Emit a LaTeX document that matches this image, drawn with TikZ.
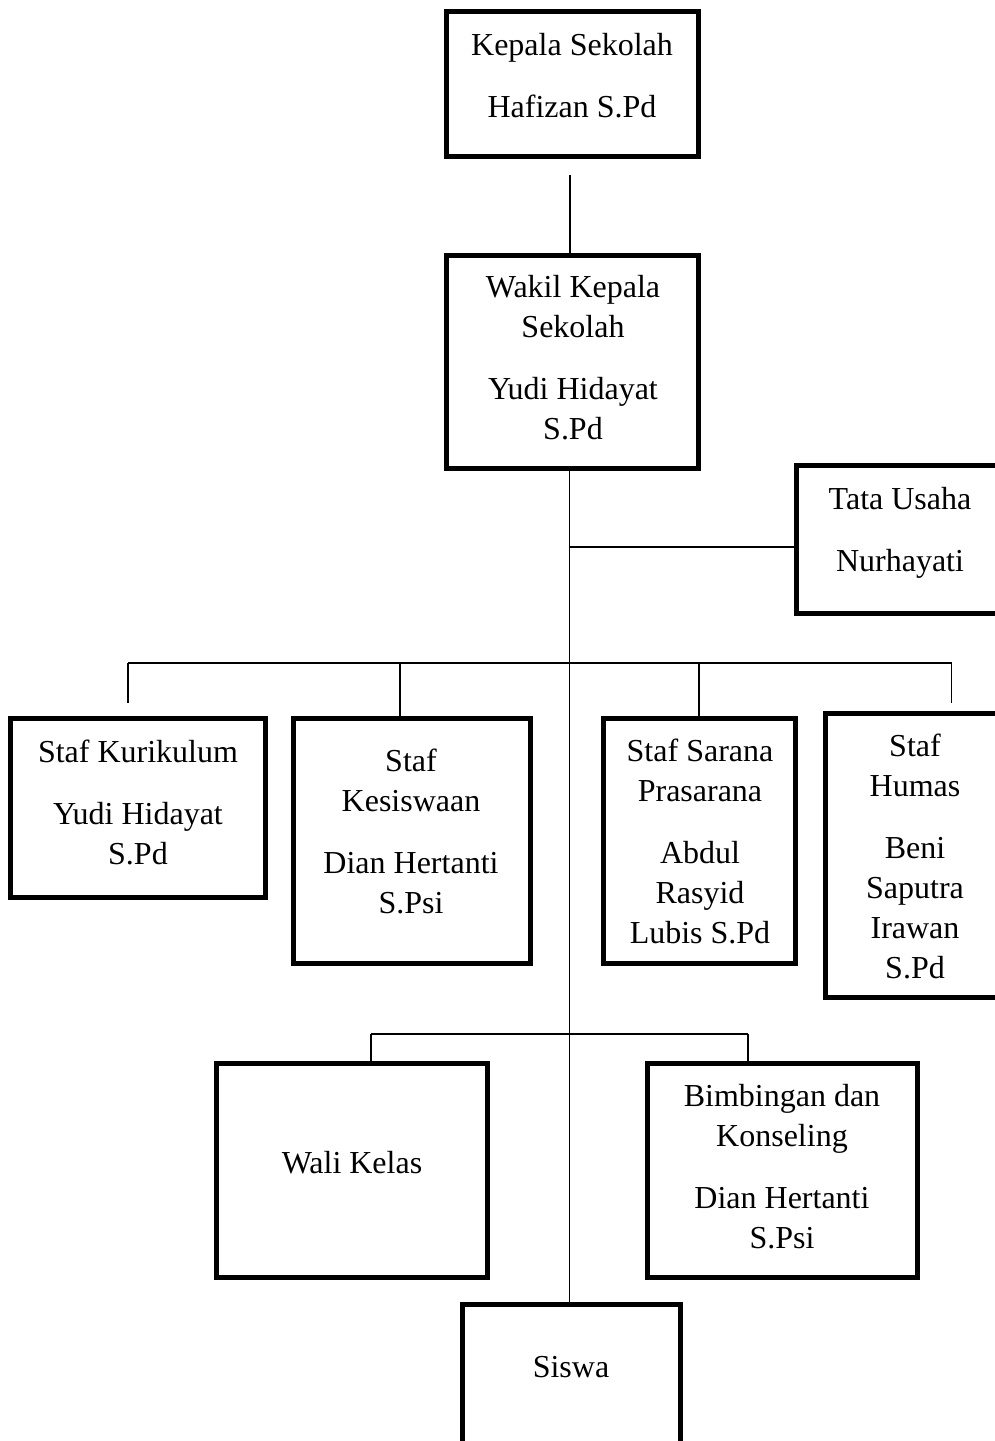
\documentclass[tikz,border=0pt]{standalone}
\usepackage{fontspec}
\setmainfont{Liberation Serif}
\begin{document}
\begin{tikzpicture}[x=0.5pt,y=-0.5pt,
  box/.style={draw, line width=2.5pt, inner sep=0pt, outer sep=0pt},
  txt/.style={align=center, inner sep=0pt, font=\fontsize{16}{20}\selectfont},
  conn/.style={line width=0.9pt}]
\useasboundingbox (0,0) rectangle (995,1441);
\clip (0,0) rectangle (995,1441);

% boxes
\node[box, minimum width=126pt, minimum height=72.5pt] (kepala) at (572.5,84) {};
\node[box, minimum width=126pt, minimum height=106.5pt] (wakil) at (572.5,362) {};
\node[box, minimum width=103.5pt, minimum height=74pt] (tata) at (900,539.5) {};
\node[box, minimum width=127.5pt, minimum height=89.5pt] (kur) at (138,808) {};
\node[box, minimum width=118.5pt, minimum height=122.5pt] (kes) at (412,841) {};
\node[box, minimum width=96pt, minimum height=122.5pt] (sar) at (699.5,841) {};
\node[box, minimum width=89.5pt, minimum height=142pt] (hum) at (915,855.5) {};
\node[box, minimum width=135.5pt, minimum height=107pt] (wali) at (352,1170.5) {};
\node[box, minimum width=135pt, minimum height=107pt] (bim) at (782.5,1170.5) {};
\node[box, minimum width=109pt, minimum height=76.5pt] (siswa) at (571.5,1381) {};

% texts
\node[txt] (kepalaT) at (572,78) {Kepala Sekolah\strut\\[11pt]Hafizan S.Pd\strut};
\node[txt] (wakilT) at (573,360) {Wakil Kepala\strut\\Sekolah\strut\\[11pt]Yudi Hidayat\strut\\S.Pd\strut};
\node[txt] (tataT) at (900,532) {Tata Usaha\strut\\[11pt]Nurhayati\strut};
\node[txt] (kurT) at (138,805) {Staf Kurikulum\strut\\[11pt]Yudi Hidayat\strut\\S.Pd\strut};
\node[txt] (kesT) at (411,834.5) {Staf\strut\\Kesiswaan\strut\\[11pt]Dian Hertanti\strut\\S.Psi\strut};
\node[txt] (sarT) at (700,844) {Staf Sarana\strut\\Prasarana\strut\\[11pt]Abdul\strut\\Rasyid\strut\\Lubis S.Pd\strut};
\node[txt] (humT) at (915,859.5) {Staf\strut\\Humas\strut\\[11pt]Beni\strut\\Saputra\strut\\Irawan\strut\\S.Pd\strut};
\node[txt] (waliT) at (352,1165) {Wali Kelas\strut};
\node[txt] (bimT) at (782,1169.5) {Bimbingan dan\strut\\Konseling\strut\\[11pt]Dian Hertanti\strut\\S.Psi\strut};
\node[txt] (siswaT) at (571,1369) {Siswa\strut};

% connectors
\coordinate (kdrop) at (570,175);
\draw[conn] (kdrop) -- (kdrop |- wakil.north);
\coordinate (sp) at (569.5,468);
\draw[conn] (sp) -- (sp |- siswa.north);
\coordinate (tj) at (569.5,547);
\draw[conn] (tj) -- (tj -| tata.west);

\coordinate (bL) at (128,663);
\coordinate (bR) at (951.5,663);
\draw[conn] (bL) -- (bR);
\coordinate (kurD) at (128,703);
\draw[conn] (bL) -- (kurD);
\coordinate (kesJ) at (400,663);
\draw[conn] (kesJ) -- (kesJ |- kes.north);
\coordinate (sarJ) at (699,663);
\draw[conn] (sarJ) -- (sarJ |- sar.north);
\coordinate (humD) at (951.5,703);
\draw[conn] (bR) -- (humD);

\coordinate (lL) at (371,1034);
\coordinate (lR) at (748,1034);
\draw[conn] (lL) -- (lR);
\draw[conn] (lL) -- (lL |- wali.north);
\draw[conn] (lR) -- (lR |- bim.north);
\end{tikzpicture}
\end{document}
